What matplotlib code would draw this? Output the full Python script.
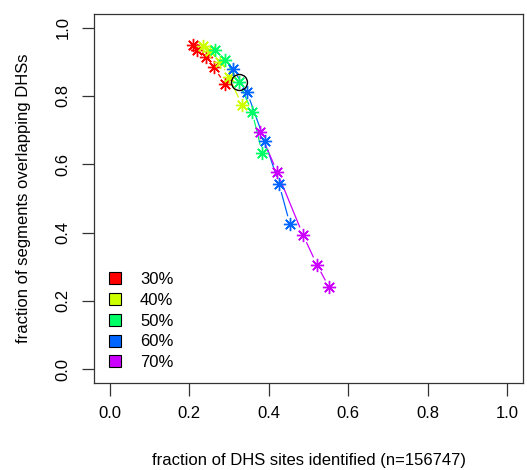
import matplotlib
matplotlib.use("Agg")
import matplotlib.pyplot as plt
from matplotlib.lines import Line2D
import numpy as np

plt.rcParams['font.family'] = ['Liberation Sans', 'DejaVu Sans']

labels = ["30%", "40%", "50%", "60%", "70%"]
colors = ["#FF0000", "#CCFF00", "#00FF66", "#0066FF", "#CC00FF"]

x30 = [0.209, 0.219, 0.242, 0.262, 0.290]
y30 = [0.948, 0.936, 0.913, 0.884, 0.834]
x40 = [0.234, 0.252, 0.277, 0.300, 0.332]
y40 = [0.945, 0.931, 0.899, 0.855, 0.774]
x50 = [0.264, 0.290, 0.325, 0.358, 0.383]
y50 = [0.936, 0.904, 0.840, 0.753, 0.634]
x60 = [0.310, 0.345, 0.390, 0.426, 0.453]
y60 = [0.879, 0.812, 0.667, 0.541, 0.425]
x70 = [0.378, 0.421, 0.486, 0.521, 0.552]
y70 = [0.693, 0.577, 0.393, 0.306, 0.239]

highlight_x = [0.325]
highlight_y = [0.840]

xs = [x30, x40, x50, x60, x70]
ys = [y30, y40, y50, y60, y70]

fig = plt.figure(figsize=(5.27, 4.70), dpi=100)
ax = fig.add_axes([0.1786, 0.1857, 0.8137, 0.7845])
ax.set_xlim(-0.04, 1.04)
ax.set_ylim(-0.04, 1.04)

fig.canvas.draw()
gap = 8.0  # pixels
for xv, yv, c in zip(xs, ys, colors):
    pts = ax.transData.transform(np.column_stack([xv, yv]))
    for i in range(len(pts) - 1):
        p0, p1 = pts[i], pts[i + 1]
        d = p1 - p0
        L = np.hypot(*d)
        if L <= 2 * gap:
            continue
        u = d / L
        a = p0 + u * gap
        b = p1 - u * gap
        seg = ax.transData.inverted().transform(np.vstack([a, b]))
        ax.plot(seg[:, 0], seg[:, 1], color=c, lw=0.9, solid_capstyle='butt')

for xv, yv, c in zip(xs, ys, colors):
    ax.plot(xv, yv, linestyle='none', marker=(8, 2, 0), markersize=9.5,
            markeredgewidth=1.0, color=c)

ax.plot(highlight_x, highlight_y, linestyle='none', marker='o', markersize=11.5,
        markerfacecolor='none', markeredgecolor='black', markeredgewidth=1.0)

ticks = [0.0, 0.2, 0.4, 0.6, 0.8, 1.0]
ticklabels = ["0.0", "0.2", "0.4", "0.6", "0.8", "1.0"]
ax.set_xticks(ticks)
ax.set_xticklabels(ticklabels, fontsize=12)
ax.set_yticks(ticks)
ax.set_yticklabels(ticklabels, fontsize=12, rotation=90, va='center')
ax.tick_params(axis='both', length=9, width=0.9, color='#333333', pad=8)
for s in ax.spines.values():
    s.set_linewidth(0.9)
    s.set_color('#333333')

ax.set_xlabel("fraction of DHS sites identified (n=156747)", fontsize=12, labelpad=23)
ax.set_ylabel("fraction of segments overlapping DHSs", fontsize=12, labelpad=18)

handles = [Line2D([], [], linestyle='none', marker='s', markersize=9,
                  markerfacecolor=c, markeredgecolor='black', markeredgewidth=0.8)
           for c in colors]
ax.legend(handles, labels, loc='lower left', bbox_to_anchor=(0.0, 0.0),
          frameon=False, fontsize=12, handlelength=1.0, handletextpad=1.0,
          labelspacing=0.35, borderaxespad=0.35)

fig.savefig("out.png", dpi=100)
